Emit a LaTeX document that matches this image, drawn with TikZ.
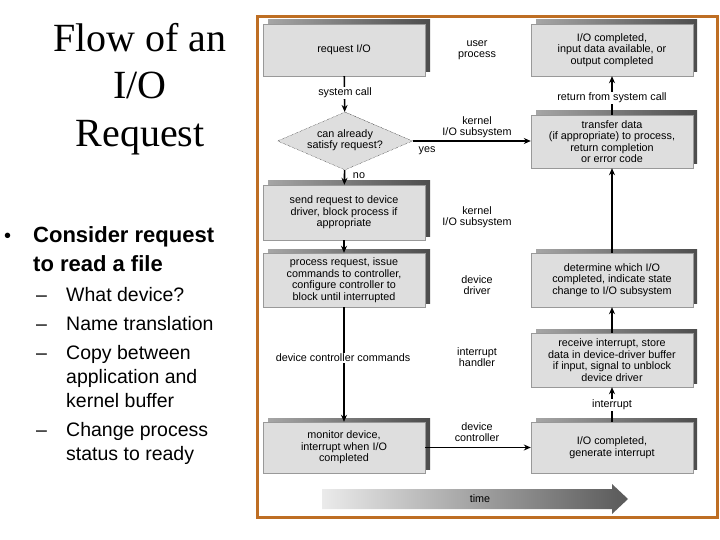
\documentclass[tikz,border=0pt]{standalone}
\usepackage{fontspec}
\setmainfont{Liberation Sans}
\newfontfamily\serifrm{Liberation Serif}
\usetikzlibrary{shapes.geometric,arrows.meta,positioning}
\definecolor{frame}{RGB}{190,110,35}
\definecolor{boxgray}{RGB}{222,222,222}
\begin{document}
\begin{tikzpicture}[x=1pt,y=-1pt,
  box/.style={draw=black!40,fill=boxgray,minimum width=162pt,align=center,font=\fontsize{10.8}{11.5}\selectfont,inner sep=0pt},
  lab/.style={align=center,font=\fontsize{10.8}{11}\selectfont,inner sep=1pt},
  big/.style={anchor=base west,font=\bfseries\fontsize{22}{24}\selectfont,inner sep=0pt},
  sub/.style={anchor=base west,font=\fontsize{19.5}{24}\selectfont,inner sep=0pt},
  arr/.style={-{Stealth[length=7pt,width=6pt]},line width=1.6pt}]
\useasboundingbox (0,0) rectangle (720,540);
% left text
\node[font=\serifrm\fontsize{40}{47.5}\selectfont,align=center] (title) at (140,89) {Flow of an\\I/O\\Request};
\node[big,font=\fontsize{20}{24}\selectfont] (dot) at (4,243) {•};
\node[big] (b1) at (33,243) {Consider request};
\node[big] (b2) at (33,271) {to read a file};
\node[sub] (d1) at (36,301) {–};
\node[sub] (t1) at (66,301) {What device?};
\node[sub] (d2) at (36,330) {–};
\node[sub] (t2) at (66,330) {Name translation};
\node[sub] (d3) at (36,359) {–};
\node[sub] (t3) at (66,359) {Copy between};
\node[sub] (t3b) at (66,383) {application and};
\node[sub] (t3c) at (66,407) {kernel buffer};
\node[sub] (d4) at (36,436) {–};
\node[sub] (t4) at (66,436) {Change process};
\node[sub] (t4b) at (66,460) {status to ready};
% frame
\draw[frame,line width=3pt] (257,17) rectangle (717,517);
% shadows
\foreach \a/\b in {24/76,185/240,253/307,422/473}{
  \fill[left color=black!35,right color=black!70] (268,\a-4) rectangle (430,\b-4);}
\foreach \a/\b in {24/76,115/168,253/307,333/387,422/473}{
  \fill[left color=black!35,right color=black!70] (536,\a-4) rectangle (697,\b-4);}
% boxes
\node[box,minimum height=52pt] (req) at (344,50) {request I/O};
\node[box,minimum height=55pt] (send) at (344,212.5) {send request to device\\driver, block process if\\appropriate};
\node[box,minimum height=54pt] (proc) at (344,280) {process request, issue\\commands to controller,\\configure controller to\\block until interrupted};
\node[box,minimum height=51pt] (mon) at (344,447.5) {monitor device,\\interrupt when I/O\\completed};
\node[box,minimum height=52pt] (done) at (612,50) {I/O completed,\\input data available, or\\output completed};
\node[box,minimum height=53pt] (xfer) at (612,141.5) {transfer data\\(if appropriate) to process,\\return completion\\or error code};
\node[box,minimum height=54pt] (det) at (612,280) {determine which I/O\\completed, indicate state\\change to I/O subsystem};
\node[box,minimum height=54pt] (recv) at (612,360) {receive interrupt, store\\data in device-driver buffer\\if input, signal to unblock\\device driver};
\node[box,minimum height=51pt] (gen) at (612,447.5) {I/O completed,\\generate interrupt};
% diamond
\fill[black!55] (345,112) -- (412,141) -- (406,142) -- (345,116) -- cycle;
\node[diamond,draw,densely dotted,fill=boxgray,minimum width=135pt,minimum height=58pt,inner sep=0pt,aspect=2.3] (dia) at (345,141) {};
\node[lab] (diat) at (345,140) {can already\\satisfy request?};
% middle labels
\node[lab] (m1) at (477,50) {user\\process};
\node[lab] (m2) at (477,127) {kernel\\I/O subsystem};
\node[lab] (m3) at (477,217) {kernel\\I/O subsystem};
\node[lab] (m4) at (477,285) {device\\driver};
\node[lab] (m5) at (477,357) {interrupt\\handler};
\node[lab] (m6) at (477,432) {device\\controller};
% arrows
\draw[arr] (req) -- (dia);
\node[lab,fill=white] (sc) at (345,93) {system call};
\draw[arr] (dia) -- (send);
\node[lab] (no) at (359,176) {no};
\draw[arr] (send) -- (proc);
\draw[arr] (proc) -- (mon);
\node[lab,fill=white] (dcc) at (343,358) {device controller commands};
\draw[arr] (dia.east) -- (xfer.west|-dia.east);
\node[lab] (yes) at (427,151) {yes};
\draw[arr] (mon) -- (gen);
\draw[arr] (gen) -- (recv);
\node[lab,fill=white] (intr) at (612,405) {interrupt};
\draw[arr] (recv) -- (det);
\draw[arr] (det) -- (xfer);
\draw[arr] (xfer) -- (done);
\node[lab,fill=white] (rsc) at (612,98) {return from system call};
% time arrow
\shade[left color=black!8,right color=black!65] (322,489) -- (612,489) -- (612,484) -- (628,499) -- (612,514) -- (612,509) -- (322,509) -- cycle;
\node[lab] (time) at (480,499) {time};
\end{tikzpicture}
\end{document}
